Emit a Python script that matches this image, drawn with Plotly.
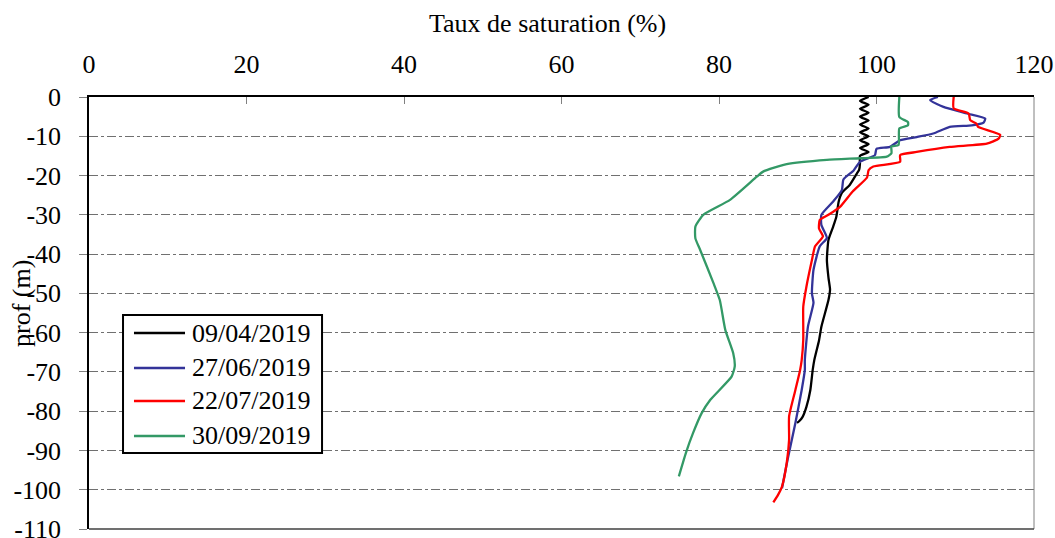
import plotly.graph_objects as go

# Taux de saturation (%) vs profondeur (m)
prof_0904 = [0, -1, -2, -3, -4, -5, -6, -7, -8, -9, -10, -11, -12, -13, -14, -15,
             -17, -18.5, -19.5, -22.4, -24.4, -26.6, -30.5, -33, -36.4, -41.5, -46,
             -49, -51.7, -58.5, -62, -67, -69.5, -74.6, -78.9, -81.5, -82.5, -83]
sat_0904 = [99.0, 97.9, 99.0, 97.9, 99.0, 97.9, 99.0, 97.9, 99.0, 97.9, 99.0, 97.9,
            99.0, 97.9, 99.0, 97.9, 97.9, 97.8, 97.5, 96.6, 95.6, 95.2, 94.9, 94.5,
            93.9, 93.7, 93.9, 94.1, 93.9, 93.0, 92.7, 92.1, 91.9, 91.6, 91.1, 90.6,
            90.2, 89.9]

prof_2706 = [0, -0.8, -2.5, -4.2, -5.5, -6.5, -7.2, -7.6, -9.3, -10.2, -11, -12.7,
             -13.2, -14.8, -16.5, -18.7, -21, -23.7, -26.6, -30, -32.6, -35.9, -38,
             -44, -50, -52.4, -58.4, -67, -69.5, -74.6, -83, -91.5, -97.5, -99.6]
sat_2706 = [107.8, 106.8, 108.5, 111.5, 113.8, 113.6, 112.1, 109.3, 107.2, 105.1,
            103.0, 101.7, 100.0, 99.8, 97.9, 97.1, 95.8, 95.6, 94.5, 93.0, 93.0, 93.7,
            92.8, 92.0, 91.8, 92.0, 91.3, 90.9, 90.9, 90.5, 89.7, 88.8, 88.2, 88.0]

prof_2207 = [0, -2.9, -4.2, -5.9, -6.8, -7.6, -9.6, -10.6, -11.9, -12.7, -14, -14.8,
             -16.5, -17.7, -18.6, -20.5, -24, -27.9, -30, -31.3, -33.5, -35.5, -38,
             -41.5, -48.3, -53.4, -58.4, -61.8, -67, -69.5, -74.6, -81.3, -87.3, -93.2,
             -99.2, -101.3, -103.2]
sat_2207 = [109.8, 109.8, 111.7, 111.9, 112.7, 112.9, 115.7, 115.5, 114.0, 109.3,
            105.1, 103.0, 103.0, 99.6, 99.0, 98.8, 97.0, 95.4, 93.9, 92.8, 92.7, 93.2,
            92.2, 91.8, 91.1, 90.7, 90.7, 90.7, 90.5, 90.3, 89.7, 88.9, 88.9, 88.6,
            88.0, 87.5, 86.9]

prof_3009 = [0, -5.1, -6.4, -7.2, -8, -12.2, -12.6, -14.3, -15.2, -15.6, -16, -17.1,
             -19, -20.3, -26.2, -30, -33, -36, -38.9, -47.4, -51.7, -59.3, -65.2, -68.6,
             -71.2, -77.1, -80.5, -85.6, -90.6, -96.6]
sat_3009 = [102.9, 102.9, 104.0, 104.0, 102.9, 102.8, 101.9, 101.9, 101.3, 97.9, 93.7,
            88.6, 85.6, 84.8, 81.4, 78.0, 77.0, 77.0, 77.6, 79.3, 80.1, 80.8, 81.8, 82.0,
            81.6, 78.9, 77.8, 76.7, 75.8, 74.9]

prof_ticks = [0, -10, -20, -30, -40, -50, -60, -70, -80, -90, -100, -110]
prof_labels = ['0', '-10', '-20', '-30', '-40', '-50', '-60', '-70', '-80', '-90', '-100', '-110']

series = [
    ('09/04/2019', sat_0904, prof_0904, '#000000'),
    ('27/06/2019', sat_2706, prof_2706, '#333399'),
    ('22/07/2019', sat_2207, prof_2207, '#FF0000'),
    ('30/09/2019', sat_3009, prof_3009, '#339966'),
]

font = 'Liberation Serif'

fig = go.Figure()
for name, x, y, color in series:
    fig.add_trace(go.Scatter(x=x, y=y, name=name, mode='lines', showlegend=False,
                             line=dict(color=color, width=2.3, shape='spline', smoothing=0.5)))

# frame: right and bottom borders
fig.add_shape(type='line', xref='paper', yref='paper', x0=1, x1=1, y0=0, y1=1,
              line=dict(color='#808080', width=1))
fig.add_shape(type='line', xref='paper', yref='paper', x0=0, x1=1, y0=0, y1=0,
              line=dict(color='#404040', width=1.5))

# legend box drawn by hand (plotly's entries are spaced too far apart at this font size)
fig.add_shape(type='rect', xref='paper', yref='paper', x0=0.036, x1=0.2466, y0=0.1759, y1=0.4954,
              line=dict(color='black', width=2), fillcolor='white', layer='above')
leg_y = [0.4537, 0.3727, 0.2963, 0.2153]
for (name, x, y, color), ly in zip(series, leg_y):
    fig.add_shape(type='line', xref='paper', yref='paper', x0=0.0476, x1=0.1016, y0=ly, y1=ly,
                  line=dict(color=color, width=2.3), layer='above')
    fig.add_annotation(text=name, xref='paper', yref='paper', x=0.1069, y=ly,
                       xanchor='left', yanchor='middle', showarrow=False,
                       font=dict(family=font, size=26))

# axis titles
fig.add_annotation(text='Taux de saturation (%)', xref='paper', yref='paper',
                   x=0.4847, y=1.169, xanchor='center', yanchor='middle',
                   showarrow=False, font=dict(family=font, size=26))
fig.add_annotation(text='prof (m)', xref='paper', yref='paper', textangle=-90,
                   x=-0.072, y=0.523, xanchor='center', yanchor='middle',
                   showarrow=False, font=dict(family=font, size=26))

fig.update_layout(
    width=1055, height=538,
    margin=dict(l=89, r=21, t=97, b=9),
    paper_bgcolor='white', plot_bgcolor='white',
    font=dict(family=font, size=26, color='black'),
    showlegend=False,
    xaxis=dict(side='top', range=[0, 120], dtick=20, tick0=0, automargin=False,
               ticks='inside', ticklen=7, tickcolor='#808080', ticklabelstandoff=12,
               showline=True, linecolor='black', linewidth=1.5,
               showgrid=False, zeroline=False),
    yaxis=dict(range=[-110, 0], tickvals=prof_ticks, ticktext=prof_labels, automargin=False,
               ticks='outside', ticklen=8, tickcolor='#808080', ticklabelstandoff=13,
               ticklabeloverflow='allow',
               showline=True, linecolor='black', linewidth=1.5,
               showgrid=True, gridcolor='#707070', gridwidth=1, griddash='dashdot',
               zeroline=False),
)

# drop the default body margin so the figure sits at the page corner
fig.write_html("out.html", config={'displayModeBar': False},
               post_script="document.body.style.margin='0';document.body.style.overflow='hidden';")
